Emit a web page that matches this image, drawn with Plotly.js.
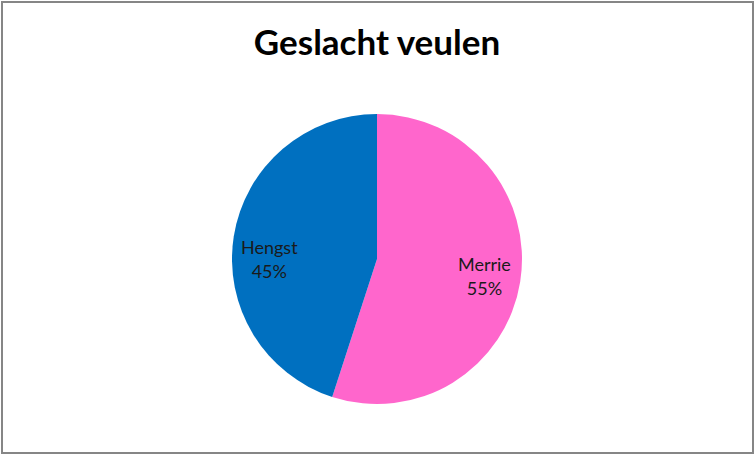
<!DOCTYPE html>
<html>
<head>
<meta charset="utf-8">
<script src="https://cdn.plot.ly/plotly-3.0.1.min.js"></script>
<style>
  body { margin: 0; background: #fff; }
  #wrap { position: relative; width: 754px; height: 454px; }
  #chart { position: absolute; left: 0; top: 0; width: 754px; height: 454px; }
  #frame { position: absolute; left: 1px; top: 1px; width: 749px; height: 449px;
           border: 2px solid #868686; pointer-events: none; }
</style>
</head>
<body>
<div id="wrap">
  <div id="chart"></div>
  <div id="frame"></div>
</div>
<script>
var labels = ['Merrie', 'Hengst'];
var values = [55, 45];
var colors = ['#FF66CC', '#0070C0'];

var pie_domain = {x: [0.3077, 0.6923], y: [0.1101, 0.7489]};
var label_font = {family: 'Lato, "Open Sans", sans-serif', size: 18, color: '#1a1a1a'};

function on_start(){
    var chart = document.getElementById('chart');

    // the filled pie, no text
    var slices = {
        type: 'pie',
        labels: labels,
        values: values,
        sort: false,
        direction: 'clockwise',
        rotation: 0,
        marker: {colors: colors, line: {width: 0}},
        textinfo: 'none',
        hoverinfo: 'none',
        domain: pie_domain
    };

    // same pie again, see-through, with a hole so the labels sit further out (like Excel)
    var text_ring = {
        type: 'pie',
        labels: labels,
        values: values,
        sort: false,
        direction: 'clockwise',
        rotation: 0,
        hole: 0.5,
        marker: {colors: ['rgba(0,0,0,0)', 'rgba(0,0,0,0)'], line: {width: 0}},
        texttemplate: '%{label}<br>%{percent:.0%}',
        textposition: 'inside',
        insidetextorientation: 'horizontal',
        textfont: label_font,
        hoverinfo: 'none',
        domain: pie_domain
    };

    var layout = {
        width: 754,
        height: 454,
        margin: {l: 0, r: 0, t: 0, b: 0},
        paper_bgcolor: '#ffffff',
        showlegend: false,
        title: {
            text: '<b>Geslacht veulen</b>',
            font: {family: 'Lato, "Open Sans", sans-serif', size: 35, color: '#000000'},
            x: 0.5,
            xanchor: 'center',
            y: 0.905,
            yanchor: 'middle'
        }
    };

    Plotly.newPlot(chart, [slices, text_ring], layout, {staticPlot: true});
}

on_start();
</script>
</body>
</html>
